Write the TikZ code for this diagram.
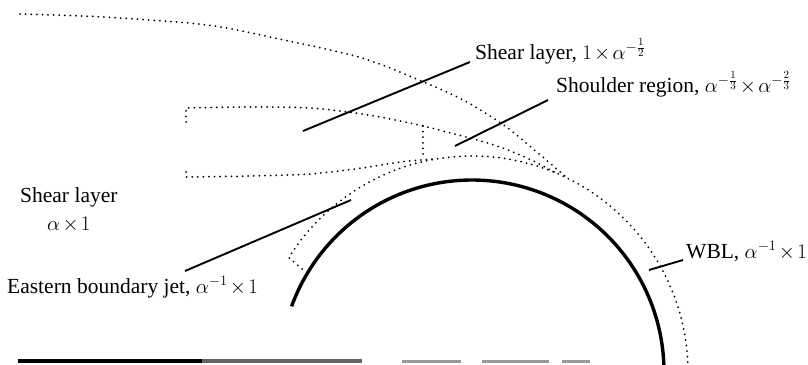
\documentclass[tikz,border=0pt]{standalone}
\usepackage{fontspec}
\setmainfont{Liberation Serif}
\newcommand{\tms}{\mkern2mu{\times}\mkern2mu}
\begin{document}
\begin{tikzpicture}[x=1pt,y=-1pt,
  dotline/.style={line width=2pt, dash pattern=on 0pt off 5.6pt, line cap=round},
  body/.style={line width=3.4pt},
  leader/.style={line width=1.9pt},
  lbl/.style={font=\fontsize{21.5}{26}\selectfont, inner sep=0pt, anchor=base west}]
\useasboundingbox (0,0) rectangle (808,364);

% solid body (circle)
\draw[body] plot[domain=2:160, samples=90, smooth] ({472+192*cos(\x)},{372-192*sin(\x)});

% dotted circle with inward hook
\draw[dotline] (302,269) -- plot[domain=148:2, samples=90, smooth] ({472+216*cos(\x)},{372-216*sin(\x)});

% outer dotted curve
\draw[dotline] plot[smooth] coordinates {(20,14) (103,17) (207,25) (284,40) (362,58) (419,80) (465,101) (505,126) (538,153) (566,177)};

% upper dotted line of shear layer
\draw[dotline] (186,122) -- (186,108) -- plot[smooth] coordinates {(186,108) (250,107) (310,108) (362,114) (405,122) (439,130) (491,144) (527,158) (558,174)};

% lower dotted line
\draw[dotline] (186,172) -- (186,177) -- plot[smooth] coordinates {(186,177) (250,176) (310,174) (362,168) (400,162) (434,159)};

% vertical dotted segment
\draw[dotline] (423,126) -- (423,158);

% bottom line (scanned, broken)
\draw[line width=4pt] (18,361) -- (202,361);
\draw[line width=4pt, black!60] (202,361) -- (362,361);
\draw[line width=3pt, black!40] (402,361) -- (461,361);
\draw[line width=3pt, black!40] (482,361) -- (549,361);
\draw[line width=3pt, black!40] (562,361) -- (590,361);

% labels
\node[lbl] (shearA) at (475,59) {Shear layer, $1\tms\alpha^{-\frac12}$};
\node[lbl] (shoulder) at (556,92) {Shoulder region, $\alpha^{-\frac13}\tms\alpha^{-\frac23}$};
\node[lbl] (shearB) at (20,202) {Shear layer};
\node[lbl] (shearBsize) at (47,230) {$\alpha\tms 1$};
\node[lbl] (ebj) at (7,293) {Eastern boundary jet, $\alpha^{-1}\tms 1$};
\node[lbl] (wbl) at (686,258) {WBL, $\alpha^{-1}\tms 1$};

% leader lines
\coordinate (p1) at (303,131); \coordinate (q1) at (470,62);
\coordinate (p2) at (455,146); \coordinate (q2) at (548,100);
\coordinate (p3) at (351,200); \coordinate (q3) at (185,271);
\coordinate (p4) at (649,270); \coordinate (q4) at (683,260);
\draw[leader] (p1) -- (q1);
\draw[leader] (p2) -- (q2);
\draw[leader] (p3) -- (q3);
\draw[leader] (p4) -- (q4);
\end{tikzpicture}
\end{document}
